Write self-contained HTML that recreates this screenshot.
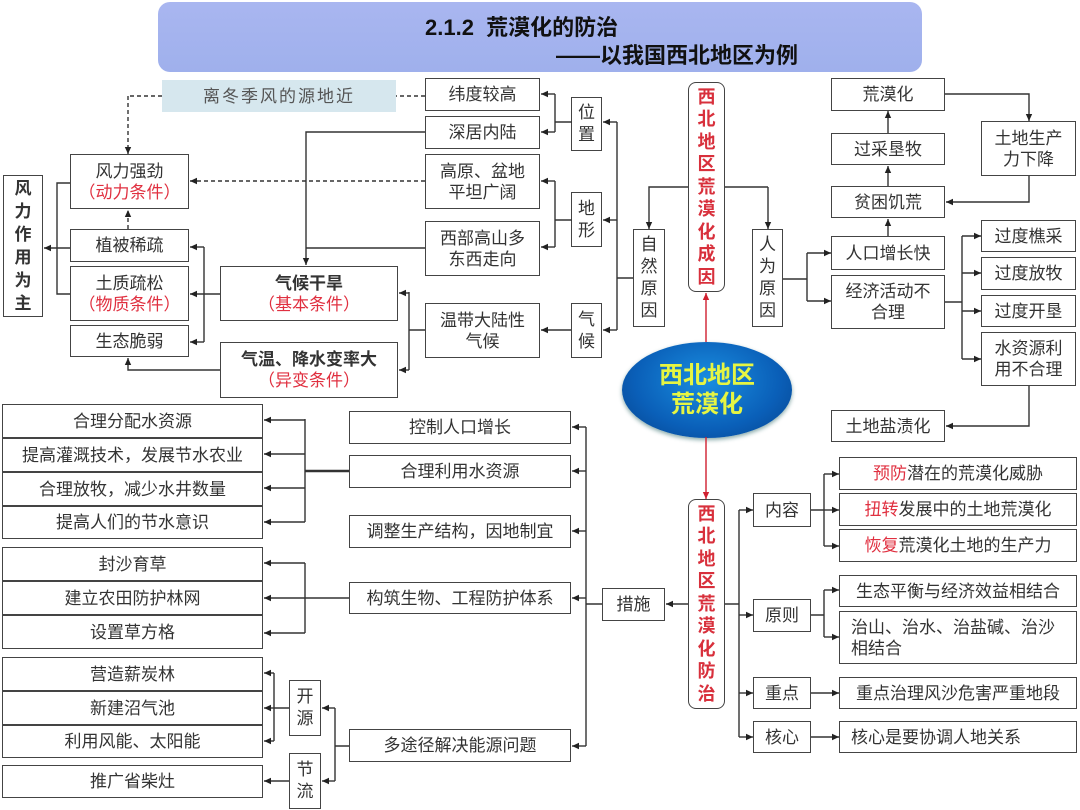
<!DOCTYPE html>
<html><head><meta charset="utf-8"><style>
body{margin:0;width:1080px;height:810px;background:#fff;position:relative;overflow:hidden;font-family:"Liberation Sans","Noto Sans CJK SC",sans-serif;color:#333}
.b{position:absolute;box-sizing:border-box;border:1.5px solid #444;background:#fff;display:flex;align-items:center;justify-content:center;text-align:center;font-size:17px;line-height:21px}
.v{flex-direction:column;line-height:22px}
.r{color:#e03040}
.rb{border-radius:8px;color:#d8303c;font-weight:bold;line-height:22.5px;font-size:18px}
svg{position:absolute;left:0;top:0}
</style></head><body>
<div style="position:absolute;left:158px;top:2px;width:764px;height:70px;border-radius:12px;background:linear-gradient(#a9b6f0,#9fb0ec)"></div>
<div style="position:absolute;left:425px;top:10px;font-size:22px;font-weight:bold;color:#111">2.1.2&nbsp; 荒漠化的防治</div>
<div style="position:absolute;left:556px;top:38px;font-size:22px;font-weight:bold;color:#111">——以我国西北地区为例</div>

<div class="b" style="left:162px;top:80px;width:234px;height:32px;border:none;background:#d6e7ee;color:#555;letter-spacing:2px">离冬季风的源地近</div>
<div class="b" style="left:425px;top:78px;width:115px;height:33px">纬度较高</div>
<div class="b" style="left:425px;top:116px;width:115px;height:33px">深居内陆</div>
<div class="b v" style="left:571px;top:97px;width:31px;height:54px">位<br>置</div>
<div class="b" style="left:425px;top:154px;width:115px;height:55px">高原、盆地<br>平坦广阔</div>
<div class="b v" style="left:571px;top:192px;width:31px;height:55px">地<br>形</div>
<div class="b" style="left:425px;top:221px;width:115px;height:55px">西部高山多<br>东西走向</div>
<div class="b" style="left:425px;top:303px;width:115px;height:55px">温带大陆性<br>气候</div>
<div class="b v" style="left:571px;top:303px;width:31px;height:55px">气<br>候</div>
<div class="b v" style="left:633px;top:229px;width:32px;height:98px">自<br>然<br>原<br>因</div>
<div class="b" style="left:70px;top:154px;width:119px;height:55px"><div>风力强劲<br><span class="r">（动力条件）</span></div></div>
<div class="b v" style="left:3px;top:175px;width:40px;height:142px;font-weight:bold;line-height:23px">风<br>力<br>作<br>用<br>为<br>主</div>
<div class="b" style="left:70px;top:229px;width:119px;height:33px">植被稀疏</div>
<div class="b" style="left:70px;top:266px;width:119px;height:55px"><div>土质疏松<br><span class="r">（物质条件）</span></div></div>
<div class="b" style="left:70px;top:325px;width:119px;height:32px">生态脆弱</div>
<div class="b" style="left:220px;top:266px;width:178px;height:55px"><div><b>气候干旱</b><br><span class="r">（基本条件）</span></div></div>
<div class="b" style="left:220px;top:342px;width:178px;height:56px"><div><b>气温、降水变率大</b><br><span class="r">（异变条件）</span></div></div>

<div class="b v rb" style="left:688px;top:82px;width:37px;height:210px">西<br>北<br>地<br>区<br>荒<br>漠<br>化<br>成<br>因</div>
<div class="b v" style="left:752px;top:229px;width:31px;height:98px">人<br>为<br>原<br>因</div>
<div class="b" style="left:831px;top:78px;width:114px;height:33px">荒漠化</div>
<div class="b" style="left:831px;top:133px;width:114px;height:32px">过采垦牧</div>
<div class="b" style="left:831px;top:186px;width:114px;height:32px">贫困饥荒</div>
<div class="b" style="left:981px;top:121px;width:95px;height:55px">土地生产<br>力下降</div>
<div class="b" style="left:831px;top:236px;width:114px;height:34px">人口增长快</div>
<div class="b" style="left:831px;top:275px;width:114px;height:54px">经济活动不<br>合理</div>
<div class="b" style="left:981px;top:220px;width:95px;height:32px">过度樵采</div>
<div class="b" style="left:981px;top:257px;width:95px;height:33px">过度放牧</div>
<div class="b" style="left:981px;top:295px;width:95px;height:32px">过度开垦</div>
<div class="b" style="left:981px;top:332px;width:95px;height:54px">水资源利<br>用不合理</div>
<div class="b" style="left:831px;top:410px;width:114px;height:32px">土地盐渍化</div>

<div style="position:absolute;left:622px;top:342px;width:170px;height:96px;border-radius:50%;background:radial-gradient(ellipse at 50% 40%,#1a8ee0,#0a5fb8 60%,#06428a);box-shadow:0 2px 4px #8aa;display:flex;align-items:center;justify-content:center;text-align:center;color:#e6f542;font-weight:bold;font-size:24px;line-height:29px">西北地区<br>荒漠化</div>

<div class="b v rb" style="left:688px;top:499px;width:37px;height:210px">西<br>北<br>地<br>区<br>荒<br>漠<br>化<br>防<br>治</div>
<div class="b" style="left:602px;top:588px;width:63px;height:33px">措施</div>
<div class="b" style="left:753px;top:493px;width:58px;height:34px">内容</div>
<div class="b" style="left:839px;top:457px;width:238px;height:33px"><div><span class="r">预防</span>潜在的荒漠化威胁</div></div>
<div class="b" style="left:839px;top:493px;width:238px;height:33px"><div><span class="r">扭转</span>发展中的土地荒漠化</div></div>
<div class="b" style="left:839px;top:529px;width:238px;height:33px"><div><span class="r">恢复</span>荒漠化土地的生产力</div></div>
<div class="b" style="left:753px;top:599px;width:58px;height:33px">原则</div>
<div class="b" style="left:839px;top:575px;width:238px;height:32px">生态平衡与经济效益相结合</div>
<div class="b" style="left:839px;top:611px;width:238px;height:53px;justify-content:flex-start;text-align:left;padding-left:11px">治山、治水、治盐碱、治沙<br>相结合</div>
<div class="b" style="left:753px;top:677px;width:58px;height:32px">重点</div>
<div class="b" style="left:839px;top:677px;width:238px;height:32px">重点治理风沙危害严重地段</div>
<div class="b" style="left:753px;top:721px;width:58px;height:32px">核心</div>
<div class="b" style="left:839px;top:721px;width:238px;height:32px;justify-content:flex-start;padding-left:11px">核心是要协调人地关系</div>

<div class="b" style="left:349px;top:411px;width:222px;height:33px">控制人口增长</div>
<div class="b" style="left:349px;top:455px;width:222px;height:33px">合理利用水资源</div>
<div class="b" style="left:349px;top:515px;width:222px;height:33px">调整生产结构，因地制宜</div>
<div class="b" style="left:349px;top:582px;width:222px;height:32px">构筑生物、工程防护体系</div>
<div class="b" style="left:349px;top:729px;width:222px;height:33px">多途径解决能源问题</div>
<div class="b" style="left:2px;top:404px;width:261px;height:34px">合理分配水资源</div>
<div class="b" style="left:2px;top:438px;width:261px;height:34px">提高灌溉技术，发展节水农业</div>
<div class="b" style="left:2px;top:472px;width:261px;height:34px">合理放牧，减少水井数量</div>
<div class="b" style="left:2px;top:506px;width:261px;height:33px">提高人们的节水意识</div>
<div class="b" style="left:2px;top:547px;width:261px;height:34px">封沙育草</div>
<div class="b" style="left:2px;top:581px;width:261px;height:34px">建立农田防护林网</div>
<div class="b" style="left:2px;top:615px;width:261px;height:34px">设置草方格</div>
<div class="b" style="left:2px;top:657px;width:261px;height:34px">营造薪炭林</div>
<div class="b" style="left:2px;top:691px;width:261px;height:34px">新建沼气池</div>
<div class="b" style="left:2px;top:725px;width:261px;height:33px">利用风能、太阳能</div>
<div class="b" style="left:2px;top:765px;width:261px;height:33px">推广省柴灶</div>
<div class="b v" style="left:289px;top:680px;width:32px;height:56px">开<br>源</div>
<div class="b v" style="left:289px;top:753px;width:32px;height:56px">节<br>流</div>

<svg width="1080" height="810">
<defs>
<marker id="a" markerWidth="8" markerHeight="8" refX="7" refY="4" orient="auto" markerUnits="userSpaceOnUse"><path d="M0,0.8 L7,4 L0,7.2z" fill="#222"/></marker>
<marker id="ar" markerWidth="8" markerHeight="8" refX="7" refY="4" orient="auto" markerUnits="userSpaceOnUse"><path d="M0,0.8 L7,4 L0,7.2z" fill="#d02030"/></marker>
</defs>
<g stroke="#333" stroke-width="1.4" fill="none">
<path d="M617,122V330M633,278H617M572,122H555M555,94V132M572,220H555M555,181V247M425,330H409M409,292V370M425,248H306M204,247V342M70,183H57V294H70M725,187H768M783,279H807M807,253V301M945,302H962M962,236V359M725,604H739M739,510V737M811,510H824M824,474V546M811,615H824M824,590V637M602,604H586M586,427V746M305,419V522M349,598H305M305,563V633M349,746H335M335,708V781M289,708H274M274,673V741"/>
<path d="M349,471H305" stroke-width="2.5"/>
<g marker-end="url(#a)">
<path d="M617,122H603"/><path d="M617,220H603"/><path d="M617,330H603"/>
<path d="M555,94H541"/><path d="M555,132H541"/><path d="M555,181H541"/><path d="M555,247H541"/>
<path d="M571,330H541"/>
<path d="M409,293H399"/><path d="M409,370H399"/>
<path d="M425,132H306V265"/>
<path d="M220,294H190"/><path d="M204,247H190"/><path d="M204,342H190"/>
<path d="M220,370H128V358"/>
<path d="M70,248H44"/>
<path d="M688,187H649V229"/><path d="M768,187V229"/>
<path d="M807,253H831"/><path d="M807,301H831"/>
<path d="M888,236V219"/><path d="M888,186V166"/><path d="M888,133V111"/>
<path d="M945,94H1029V121"/><path d="M1029,176V202H946"/>
<path d="M962,236H981"/><path d="M962,273H981"/><path d="M962,311H981"/><path d="M962,359H981"/>
<path d="M1029,386V426H946"/>
<path d="M688,604H666"/>
<path d="M739,510H753"/><path d="M739,615H753"/><path d="M739,693H753"/><path d="M739,737H753"/>
<path d="M824,474H839"/><path d="M824,510H839"/><path d="M824,546H839"/>
<path d="M824,590H839"/><path d="M824,637H839"/>
<path d="M811,693H839"/><path d="M811,737H839"/>
<path d="M586,427H572"/><path d="M586,471H572"/><path d="M586,531H572"/><path d="M586,598H572"/><path d="M586,746H572"/>
<path d="M305,420H264"/><path d="M305,454H264"/><path d="M305,488H264"/><path d="M305,522H264"/>
<path d="M305,563H264"/><path d="M305,598H264"/><path d="M305,633H264"/>
<path d="M335,708H322"/><path d="M335,781H322"/>
<path d="M274,673H264"/><path d="M274,708H264"/><path d="M274,741H264"/>
<path d="M289,781H264"/>
</g>
<g stroke-dasharray="4,3">
<path d="M425,96H396M162,96H128"/>
<path d="M128,96V154" marker-end="url(#a)"/>
<path d="M425,181H190" marker-end="url(#a)"/>
<path d="M128,229V210" marker-end="url(#a)"/>
</g>
<path d="M706,342V293" stroke="#d02030" marker-end="url(#ar)"/>
<path d="M706,437V499" stroke="#d02030" marker-end="url(#ar)"/>
</g>
</svg>
</body></html>
